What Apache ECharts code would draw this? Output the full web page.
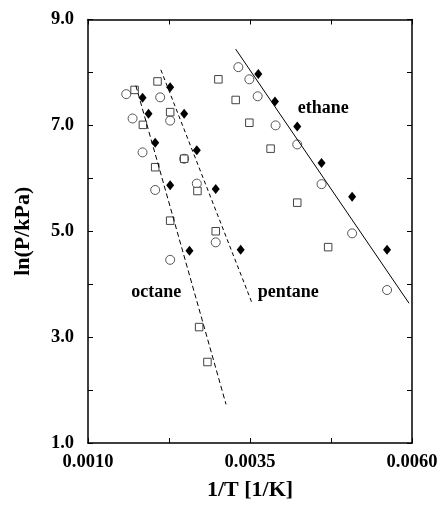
<!DOCTYPE html>
<html>
<head>
<meta charset="utf-8">
<script src="https://cdn.jsdelivr.net/npm/echarts@6/dist/echarts.min.js"></script>
<style>
  html, body { margin: 0; padding: 0; background: #fff; }
  #chart { width: 445px; height: 506px; }
</style>
</head>
<body>
<div id="chart"></div>
<script>
// 1/T [1/K] vs ln(P/kPa)
const diamonds = [
  [0.001842, 7.52], [0.001934, 7.22], [0.002037, 6.67], [0.002268, 5.87], [0.002566, 4.63],
  [0.002268, 7.72], [0.002484, 7.22], [0.002679, 6.53], [0.002971, 5.80], [0.003356, 4.65],
  [0.003628, 7.97], [0.003885, 7.45], [0.004229, 6.98], [0.004604, 6.29], [0.005076, 5.65],
  [0.005615, 4.65]
]
const circles = [
  [0.001590, 7.59], [0.001688, 7.13], [0.001842, 6.49], [0.002037, 5.78], [0.002268, 4.46],
  [0.002114, 7.53], [0.002268, 7.09], [0.002484, 6.37], [0.002679, 5.90], [0.002971, 4.79],
  [0.003320, 8.10], [0.003490, 7.87], [0.003618, 7.55], [0.003895, 7.00], [0.004229, 6.64],
  [0.004604, 5.89], [0.005076, 4.96], [0.005615, 3.89]
]
const squares = [
  [0.001719, 7.67], [0.001847, 7.01], [0.002037, 6.21], [0.002268, 5.20], [0.002715, 3.19],
  [0.002843, 2.53], [0.002073, 7.83], [0.002268, 7.25], [0.002484, 6.37], [0.002689, 5.76],
  [0.002971, 5.00], [0.003012, 7.87], [0.003279, 7.48], [0.003490, 7.05], [0.003818, 6.56],
  [0.004229, 5.54], [0.004706, 4.70]
]
const ethaneFit = [[0.003279, 8.44], [0.005954, 3.64]]
const pentaneFit = [[0.002124, 8.05], [0.003526, 3.66]]
const octaneFit = [[0.001739, 7.75], [0.003130, 1.73]]
const curveLabels = [
  {name: 'ethane', value: [0.004629, 7.33]},
  {name: 'pentane', value: [0.004090, 3.85]},
  {name: 'octane', value: [0.002052, 3.85]}
]
const xTicks = [0.0010, 0.00225, 0.0035, 0.00475, 0.0060]
const xTickLabels = [0.0010, 0.0035, 0.0060]
const yTicks = [1, 2, 3, 4, 5, 6, 7, 8, 9]
const yTickLabels = [1, 3, 5, 7, 9]

const font = 'Liberation Serif'
const axisLine = {show: true, lineStyle: {color: '#000', width: 1.5}}
const tickStyle = {inside: true, length: 5, lineStyle: {color: '#000', width: 1}}

let chart = echarts.init(document.getElementById('chart'))

let options = {
    animation: false,
    grid: {left: 88, right: 33, top: 19.5, bottom: 61},
    xAxis: [
        {
            type: 'value', min: 0.001, max: 0.006, position: 'bottom',
            name: '1/T [1/K]', nameLocation: 'middle', nameGap: 36,
            nameTextStyle: {fontFamily: font, fontWeight: 'bold', fontSize: 22, color: '#000'},
            axisLine: axisLine,
            axisTick: Object.assign({customValues: xTicks}, tickStyle),
            axisLabel: {
                customValues: xTickLabels, margin: 10,
                fontFamily: font, fontWeight: 'bold', fontSize: 18.5, color: '#000',
                formatter: v => v.toFixed(4)
            },
            splitLine: {show: false}
        },
        {
            type: 'value', min: 0.001, max: 0.006, position: 'top',
            axisLine: axisLine,
            axisTick: Object.assign({customValues: xTicks}, tickStyle),
            axisLabel: {show: false},
            splitLine: {show: false}
        }
    ],
    yAxis: [
        {
            type: 'value', min: 1, max: 9, position: 'left',
            name: 'ln(P/kPa)', nameLocation: 'middle', nameGap: 54,
            nameTextStyle: {fontFamily: font, fontWeight: 'bold', fontSize: 22, color: '#000'},
            axisLine: axisLine,
            axisTick: Object.assign({customValues: yTicks}, tickStyle),
            axisLabel: {
                customValues: yTickLabels, margin: 14,
                fontFamily: font, fontWeight: 'bold', fontSize: 18.5, color: '#000',
                padding: [0, 0, 6, 0],
                formatter: v => v.toFixed(1)
            },
            splitLine: {show: false}
        },
        {
            type: 'value', min: 1, max: 9, position: 'right',
            axisLine: axisLine,
            axisTick: Object.assign({customValues: yTicks}, tickStyle),
            axisLabel: {show: false},
            splitLine: {show: false}
        }
    ],
    series: [
        {
            type: 'line', data: ethaneFit, symbol: 'none',
            lineStyle: {color: '#000', width: 1}
        },
        {
            type: 'line', data: pentaneFit, symbol: 'none',
            lineStyle: {color: '#000', width: 1, type: [4, 3]}
        },
        {
            type: 'line', data: octaneFit, symbol: 'none',
            lineStyle: {color: '#000', width: 1, type: [5, 3]}
        },
        {
            type: 'scatter', data: circles, symbol: 'circle', symbolSize: 9,
            itemStyle: {color: '#fff', borderColor: '#555', borderWidth: 1, opacity: 1}
        },
        {
            type: 'scatter', data: squares, symbol: 'rect', symbolSize: 7.5,
            itemStyle: {color: '#fff', borderColor: '#444', borderWidth: 1, opacity: 1}
        },
        {
            type: 'scatter', data: diamonds, symbol: 'diamond', symbolSize: [8, 10],
            itemStyle: {color: '#000', opacity: 1}
        },
        {
            type: 'scatter', data: curveLabels, symbolSize: 0,
            itemStyle: {opacity: 1},
            label: {
                show: true, position: 'inside', formatter: p => p.name,
                fontFamily: font, fontWeight: 'bold', fontSize: 18, color: '#000'
            }
        }
    ]
}

chart.setOption(options)
</script>
</body>
</html>
